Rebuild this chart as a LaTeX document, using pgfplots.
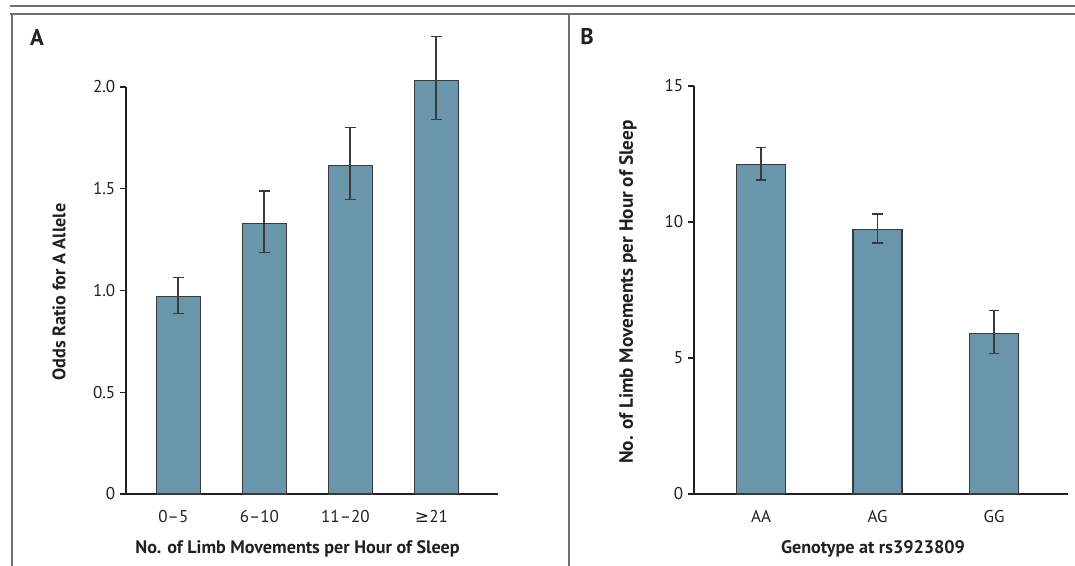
\documentclass[border=0pt]{standalone}
\usepackage{pgfplots}
\usepackage{pgfplotstable}
\pgfplotsset{compat=1.18}
\usepackage{fontspec}
\setmainfont{PT Sans}
\newfontfamily\symfont{DejaVu Sans}

\definecolor{barcol}{HTML}{6A96AB}
\definecolor{edgecol}{HTML}{3A3A3A}
\definecolor{framecol}{HTML}{707070}
\definecolor{inkcol}{HTML}{231F20}

% panel A: odds ratio by limb movements
\pgfplotstableread{
x y ep em
0 0.970 0.095 0.084
1 1.330 0.160 0.144
2 1.615 0.185 0.167
3 2.034 0.213 0.193
}\oddsdata

% panel B: movements by genotype
\pgfplotstableread{
x y ep em
0 12.12 0.61 0.58
1 9.74 0.56 0.51
2 5.91 0.84 0.74
}\genodata

\pgfplotsset{
  nejm/.style={
    scale only axis,
    axis x line*=bottom, axis y line*=left,
    axis line style={inkcol, line width=0.9pt},
    tick align=outside,
    major tick length=4.5pt,
    ytick style={inkcol, line width=0.9pt},
    xtick style={draw=none},
    tick label style={font=\fontsize{12.8}{14}\selectfont, text=inkcol},
    xticklabel style={yshift=-4pt},
    clip=false,
    ybar, bar width=33pt,
  },
  nejmbar/.style={
    fill=barcol, draw=edgecol, line width=0.8pt,
    error bars/.cd, y dir=both, y explicit,
    error bar style={edgecol, line width=1.1pt},
    error mark options={edgecol, rotate=90, mark size=4.1pt, line width=1.1pt},
  },
}

\begin{document}
\begin{tikzpicture}
\begin{scope}[x=0.75pt, y=-0.75pt]
\path[use as bounding box] (0,0) rectangle (1075,566);
\draw[framecol, line width=1.7pt] (10,6.3) -- (1075,6.3);
\draw[framecol, line width=1.5pt] (10,14) -- (1075,14);
\draw[framecol, line width=1.5pt] (11.5,13.5) -- (11.5,566);
\draw[framecol, line width=1.5pt] (569,13.5) -- (569,566);

\node[font=\fontsize{17}{20}\selectfont\bfseries, text=inkcol] at (37,38) {A};
\node[font=\fontsize{17}{20}\selectfont\bfseries, text=inkcol] at (587,37) {B};

\node[rotate=90, font=\fontsize{13.6}{16}\selectfont\bfseries, text=inkcol] at (59,292) {Odds Ratio for A Allele};
\node[font=\fontsize{13.6}{16}\selectfont\bfseries, text=inkcol] at (297.5,549) {No. of Limb Movements per Hour of Sleep};
\node[rotate=90, font=\fontsize{14.4}{17}\selectfont\bfseries, text=inkcol] at (628,292) {No. of Limb Movements per Hour of Sleep};
\node[font=\fontsize{13.6}{16}\selectfont\bfseries, text=inkcol] at (873,549) {Genotype at rs3923809};
\end{scope}

\begin{axis}[nejm,
  at={(94.5pt,-370.5pt)}, anchor=south west,
  width=279pt, height=305.25pt,
  xmin=-0.605, xmax=3.72, ymin=0, ymax=2,
  ytick={0,0.5,1,1.5,2},
  yticklabels={0,0.5,1.0,1.5,2.0},
  xtick={0,1,2,3},
  xticklabels={0–5,6–10,11–20,{{\symfont ≥}21}},
  xticklabel style={xshift=-3.5pt},
]
\addplot[nejmbar] table[x=x, y=y, y error plus=ep, y error minus=em] {\oddsdata};
\end{axis}

\begin{axis}[nejm,
  at={(520.5pt,-370.5pt)}, anchor=south west,
  width=280.5pt, height=306pt,
  xmin=-0.575, xmax=2.635, ymin=0, ymax=15,
  ytick={0,5,10,15},
  yticklabels={0,5,10,15},
  xtick={0,1,2},
  xticklabels={AA,AG,GG},
  bar width=36.75pt,
]
\addplot[nejmbar] table[x=x, y=y, y error plus=ep, y error minus=em] {\genodata};
\end{axis}
\end{tikzpicture}
\end{document}
